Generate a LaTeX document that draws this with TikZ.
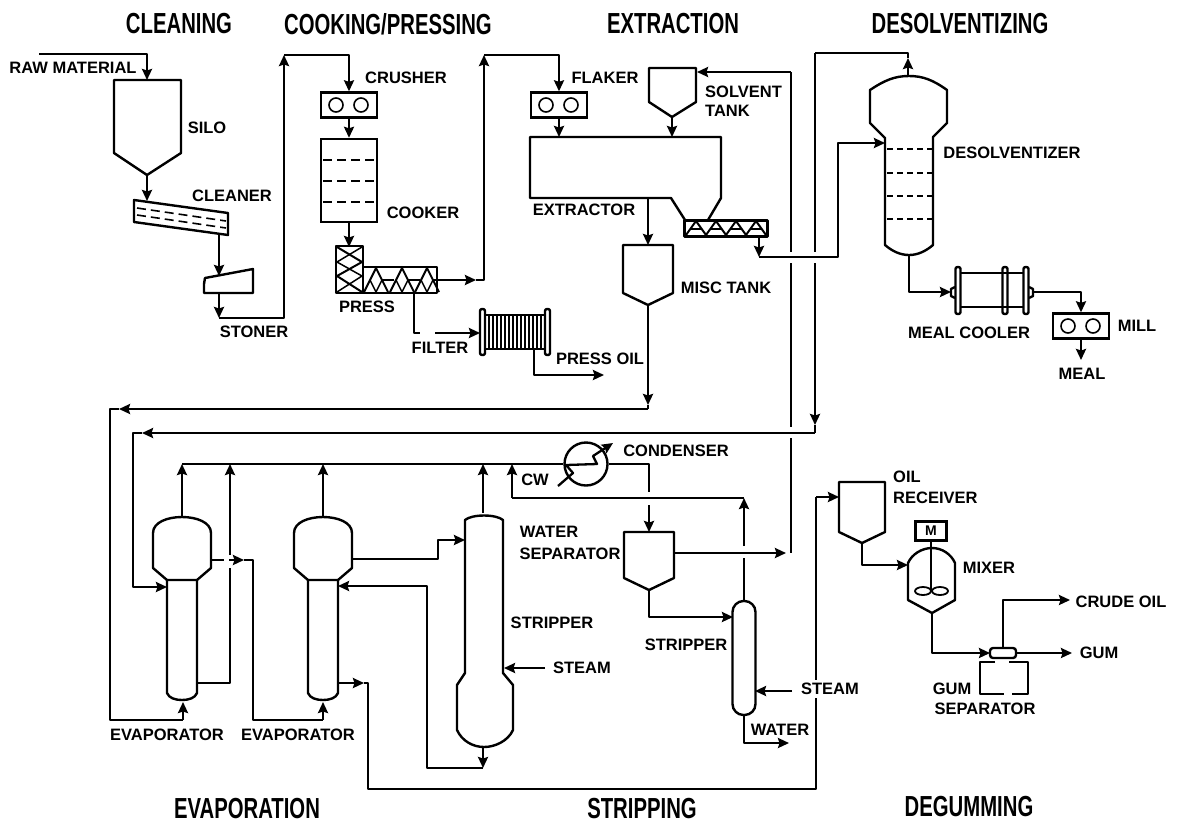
\documentclass[tikz,border=0pt]{standalone}
\usepackage{fontspec}
\setmainfont{Liberation Sans}
\newfontfamily\headfont[FakeStretch=0.7]{Liberation Sans}
\usetikzlibrary{arrows.meta}
\tikzset{
  pipe/.style={line width=2.3pt,line join=round},
  flow/.style={pipe,-{Stealth[length=11pt,width=10pt,inset=1.5pt]}},
  vessel/.style={line width=2.4pt,line join=round,fill=none},
  tray/.style={line width=2pt,dash pattern=on 9pt off 5pt},
  lab/.style={font=\fontsize{16.5}{16.5}\selectfont\bfseries,inner sep=0pt},
  head/.style={font=\fontsize{29}{29}\headfont\bfseries,inner sep=0pt},
}
\begin{document}
\begin{tikzpicture}[x=1pt,y=-1pt]
\useasboundingbox (0,0) rectangle (1182,823);
% Section titles
\node[head] (hclean) at (179,24) {CLEANING};
\node[head] (hcook) at (388,24) {COOKING/PRESSING};
\node[head] (hextr) at (673,24) {EXTRACTION};
\node[head] (hdesol) at (960,24) {DESOLVENTIZING};
\node[head] (hevap) at (247,808) {EVAPORATION};
\node[head] (hstrip) at (642,808) {STRIPPING};
\node[head] (hdegum) at (969,806) {DEGUMMING};
% Silo and cleaner
\draw[vessel] (114,80) -- (181,80) -- (181,153) -- (147,175) -- (114,153) -- cycle;
\draw[vessel] (134,200) -- (228,213) -- (228,235) -- (134,222) -- cycle;
\draw[tray,line width=1.6pt] (137,208) -- (226,221);
\draw[tray,line width=1.6pt] (137,215) -- (226,228);
% Stoner
\draw[vessel] (205,278) -- (253,269) -- (253,293) -- (204,293) -- (204,284) -- cycle;
% Crusher, flaker and mill rolls
\foreach \x/\y/\n in {349/105/crusher,559/105/flaker,1081/326/mill} {
  \node[draw,line width=2.4pt,minimum width=56pt,minimum height=25pt,inner sep=0pt] (\n) at (\x,\y) {};
  \draw[line width=1.6pt] (\x-13,\y) circle (7pt);
  \draw[line width=1.6pt] (\x+12,\y) circle (7pt);
}
% Cooker
\node[draw,line width=2.4pt,minimum width=56pt,minimum height=83pt,inner sep=0pt] (cooker) at (349,180.5) {};
\foreach \y in {160,181,202} {
  \draw[tray] (323,\y) -- (376,\y);
}
% Press with screw
\draw[vessel] (336,246) -- (363,246) -- (363,267) -- (437,267) -- (437,293) -- (336,293) -- cycle;
\draw[pipe] (363,267) -- (363,293);
\foreach \a in {364,390,415} {
  \draw[line width=2pt] (\a,292) -- (\a+12,268) -- (\a+24,292);
  \draw[line width=1.5pt] (\a+6,280) -- (\a+12,292) -- (\a+18,280);
  \draw[line width=1.5pt] (\a+18,280) -- (\a+30,280);
}
\draw[line width=2pt] (337,247) -- (362,262) -- (337,276) -- (362,292);
\draw[line width=1.5pt] (362,247) -- (337,262) -- (362,276) -- (337,292);
% Filter
\draw[vessel,rounded corners=2pt] (480,309) rectangle (485,355);
\draw[vessel,rounded corners=2pt] (545,309) rectangle (550,355);
\draw[pipe] (485,315) -- (545,315);
\draw[pipe] (485,349) -- (545,349);
\foreach \x in {489,493,...,541} {
  \draw[line width=1.5pt] (\x,315) -- (\x,349);
}
% Solvent tank
\draw[vessel] (649,68) -- (696,68) -- (696,102) -- (672,117) -- (649,102) -- cycle;
% Extractor with screw
\draw[vessel] (685,220) -- (671,198) -- (530,198) -- (530,137) -- (721,137) -- (721,198) -- (708,220);
\draw[vessel,line width=3pt] (684,220) rectangle (767,236);
\foreach \a in {686,706,726,746} {
  \draw[line width=2pt] (\a,235) -- (\a+10,221) -- (\a+20,235);
  \draw[line width=1.5pt] (\a+5,229) -- (\a+15,229);
}
% Misc tank
\draw[vessel] (623,245) -- (673,245) -- (673,293) -- (648,305) -- (623,293) -- cycle;
% Desolventizer
\draw[vessel] (885,138) -- (870,123) -- (870,90) .. controls (885,80) and (895,76) .. (909,76)
  .. controls (923,76) and (933,80) .. (947,90) -- (947,123) -- (933,137) -- (933,245)
  .. controls (926,251) and (918,255) .. (909,255) .. controls (900,255) and (892,251) .. (885,245) -- cycle;
\foreach \y in {149,173,196,219} {
  \draw[tray,dash pattern=on 6pt off 4pt] (887,\y) -- (932,\y);
}
% Meal cooler
\foreach \x in {958,1005,1026} {
  \draw[vessel,rounded corners=2pt] (\x-2.5,267) rectangle (\x+2.5,314);
}
\draw[pipe] (960,273) -- (1024,273);
\draw[pipe] (960,307) -- (1024,307);
\draw[vessel] (955,287) -- (951,289) -- (951,296) -- (955,298);
\draw[vessel] (1029,287) -- (1033,289) -- (1033,296) -- (1029,298);
% Evaporators
\foreach \c in {182,323} {
  \draw[vessel] (\c-15,580) -- (\c-29,568) -- (\c-29,533) .. controls (\c-29,522) and (\c-14,517) .. (\c,517)
    .. controls (\c+14,517) and (\c+29,522) .. (\c+29,533) -- (\c+29,568) -- (\c+15,580) -- cycle;
  \draw[vessel] (\c-15,580) -- (\c-15,693) .. controls (\c-13,698) and (\c-7,700) .. (\c,700)
    .. controls (\c+7,700) and (\c+13,698) .. (\c+15,693) -- (\c+15,580);
}
% Large stripper
\draw[vessel] (465,673) -- (465,520) .. controls (472,514) and (496,514) .. (503,520) -- (503,673)
  -- (513,685) -- (513,730) .. controls (508,741) and (495,747) .. (484,747)
  .. controls (473,747) and (462,741) .. (457,730) -- (457,685) -- cycle;
% Condenser
\node[draw,circle,line width=2.4pt,minimum size=43pt,inner sep=0pt] (condenser) at (586,464) {};
% Water separator
\draw[vessel] (624,532) -- (674,532) -- (674,578) -- (649,590) -- (624,578) -- cycle;
% Small stripper
\node[draw,line width=2.4pt,rounded corners=11pt,minimum width=23pt,minimum height=114pt,inner sep=0pt] (stripb) at (744,658) {};
% Oil receiver
\draw[vessel] (839,482) -- (885,482) -- (885,532) -- (862,543) -- (839,532) -- cycle;
% Mixer
\node[draw,line width=2.4pt,minimum width=31pt,minimum height=19pt,inner sep=0pt,font=\fontsize{14}{14}\selectfont\bfseries] (motor) at (931,531) {M};
\draw[vessel] (908,563) .. controls (912,554) and (922,548) .. (932,548) .. controls (942,548) and (951,554) .. (955,563)
  -- (955,600) -- (932,613) -- (908,600) -- cycle;
\draw[line width=1.8pt] (931,541) -- (931,591);
\draw[line width=1.8pt] (923,591) ellipse (8pt and 4pt);
\draw[line width=1.8pt] (940,591) ellipse (8pt and 4pt);
% Gum separator
\node[draw,line width=2.4pt,rounded corners=3pt,minimum width=26pt,minimum height=10pt,inner sep=0pt] (gumtop) at (1003,653) {};
\draw[vessel] (995,662) -- (980,662) -- (980,694) -- (1004,694);
\draw[vessel] (1012,694) -- (1028,694) -- (1028,662) -- (1009,662);
% Ports
\coordinate (rawin) at (39,54);
\coordinate (silotop) at (147,80);
\coordinate (silotip) at (147,175);
\coordinate (cleanerin) at (147,201);
\coordinate (cleanerout) at (219,233);
\coordinate (stonerin) at (219,276);
\coordinate (stonerout) at (219,293);
\coordinate (stonerdown) at (219,318);
\coordinate (riseone) at (284,55);
\coordinate (pressin) at (349,247);
\coordinate (pressout) at (437,280);
\coordinate (pressend) at (476,280);
\coordinate (risetwo) at (484,55);
\coordinate (pressbot) at (414,293);
\coordinate (filtergapa) at (420,333);
\coordinate (filtergapb) at (435,333);
\coordinate (filterin) at (480,333);
\coordinate (filterout) at (534,349);
\coordinate (oilout) at (604,375);
\coordinate (extrin) at (559,137);
\coordinate (solvtip) at (672,117);
\coordinate (solvout) at (672,137);
\coordinate (solvin) at (697,72);
\coordinate (extrbot) at (648,198);
\coordinate (misctop) at (648,245);
\coordinate (misctip) at (648,305);
\coordinate (miscdown) at (648,405);
\coordinate (screwout) at (759,236);
\coordinate (screwdown) at (759,257);
\coordinate (screwturn) at (838,257);
\coordinate (desolin) at (885,143);
\coordinate (desoltop) at (908,76);
\coordinate (desolup) at (908,58);
\coordinate (desolbot) at (909,255);
\coordinate (coolerin) at (951,292);
\coordinate (coolerout) at (1033,292);
\coordinate (mealout) at (1081,360);
% Return lines
\coordinate (miscback) at (648,409);
\coordinate (miscleft) at (119,409);
\coordinate (miscturn) at (110,409);
\coordinate (evapafeed) at (183,720);
\coordinate (evapaup) at (183,702);
\coordinate (evapaport) at (167,587);
\coordinate (evapasout) at (211,560);
\coordinate (evapasgap) at (224,560);
\coordinate (evapasres) at (229,560);
\coordinate (evapasend) at (244,560);
\coordinate (evapbturn) at (253,560);
\coordinate (evapbfeed) at (323,720);
\coordinate (evapbup) at (323,702);
\coordinate (evapbtop) at (323,517);
\coordinate (evapatop) at (182,517);
\coordinate (stripatop) at (483,513);
\coordinate (hdra) at (182,464);
\coordinate (hdrb) at (230,464);
\coordinate (hdrc) at (323,464);
\coordinate (hdrd) at (483,464);
\coordinate (hdre) at (512,464);
\coordinate (tubeout) at (197,683);
\coordinate (tubegapa) at (230,568);
\coordinate (tubegapb) at (230,555);
\coordinate (cwline) at (512,498);
\coordinate (cwright) at (744,498);
\coordinate (stripbtop) at (744,601);
\coordinate (stripbup) at (744,558);
\coordinate (stripbgap) at (744,546);
\coordinate (sepin) at (649,532);
\coordinate (sepgap) at (649,505);
\coordinate (condgap) at (649,492);
\coordinate (septip) at (649,590);
\coordinate (sepout) at (674,553);
\coordinate (sepend) at (786,553);
\coordinate (stripbin) at (733,617);
\coordinate (stripbbot) at (744,715);
\coordinate (waterout) at (789,743);
\coordinate (steamb) at (792,691);
\coordinate (steambin) at (755,691);
\coordinate (steama) at (545,668);
\coordinate (steamain) at (504,668);
\coordinate (evapbsout) at (352,559);
\coordinate (stripturn) at (438,559);
\coordinate (stripain) at (465,540);
\coordinate (stripabot) at (483,747);
\coordinate (stripadown) at (483,768);
\coordinate (stripback) at (427,768);
\coordinate (evapbin) at (338,586);
\coordinate (evapbout) at (338,683);
\coordinate (evapbend) at (364,683);
\coordinate (degumturn) at (368,683);
\coordinate (degumend) at (812,789);
\coordinate (degumcorner) at (816,789);
\coordinate (oilturn) at (816,497);
\coordinate (oilin) at (839,497);
\coordinate (oiltip) at (862,543);
\coordinate (mixin) at (908,565);
\coordinate (mixtip) at (932,613);
\coordinate (gumin) at (990,653);
\coordinate (gumout) at (1016,653);
\coordinate (gumend) at (1072,653);
\coordinate (crudeend) at (1070,600);
\coordinate (solveup) at (791,72);
\coordinate (solvea) at (791,252);
\coordinate (solveb) at (791,263);
\coordinate (solvec) at (791,427);
\coordinate (solved) at (791,438);
\coordinate (solvee) at (791,553);
\coordinate (dtop) at (815,53);
\coordinate (dgapa) at (815,252);
\coordinate (dgapb) at (815,263);
\coordinate (ddown) at (815,425);
\coordinate (dcorner) at (815,433);
\coordinate (dgapc) at (133,433);
\coordinate (dleft) at (142,433);
% Cleaning and cooking lines
\draw[flow] (rawin) -| (silotop);
\draw[flow] (silotip) -- (cleanerin);
\draw[flow] (cleanerout) -- (stonerin);
\draw[flow] (stonerout) -- (stonerdown);
\draw[flow] (stonerdown) -| (riseone);
\draw[flow] (riseone) -| (crusher.north);
\draw[flow] (crusher.south) -- (cooker.north);
\draw[flow] (cooker.south) -- (pressin);
\draw[flow] (pressout) -- (pressend);
\draw[flow] (pressend) -| (risetwo);
\draw[flow] (risetwo) -| (flaker.north);
\draw[flow] (flaker.south) -- (extrin);
\draw[pipe] (pressbot) |- (filtergapa);
\draw[flow] (filtergapb) -- (filterin);
\draw[flow] (filterout) |- (oilout);
% Extraction lines
\draw[flow] (solvtip) -- (solvout);
\draw[flow] (solveup) -- (solvin);
\draw[pipe] (solveup) -- (solvea);
\draw[pipe] (solveb) -- (solvec);
\draw[pipe] (solved) -- (solvee);
\draw[flow] (extrbot) -- (misctop);
\draw[flow] (misctip) -- (miscdown);
\draw[flow] (screwout) -- (screwdown);
\draw[flow] (screwdown) -- (screwturn) |- (desolin);
% Desolventizer lines
\draw[flow] (desoltop) -- (desolup);
\draw[pipe] (desolup) |- (dtop);
\draw[pipe] (dtop) -- (dgapa);
\draw[flow] (dgapb) -- (ddown);
\draw[pipe] (ddown) -- (dcorner);
\draw[flow] (desolbot) |- (coolerin);
\draw[flow] (coolerout) -| (mill.north);
\draw[flow] (mill.south) -- (mealout);
% Evaporator lines
\draw[pipe] (miscdown) -- (miscback);
\draw[flow] (miscback) -- (miscleft);
\draw[pipe] (miscleft) -- (miscturn) |- (evapafeed);
\draw[flow] (evapafeed) -- (evapaup);
\draw[flow] (dcorner) -- (dleft);
\draw[flow] (dleft) -- (dgapc) |- (evapaport);
\draw[flow] (evapatop) -- (hdra);
\draw[pipe] (tubeout) -| (tubegapa);
\draw[flow] (tubegapb) -- (hdrb);
\draw[flow] (evapbtop) -- (hdrc);
\draw[flow] (stripatop) -- (hdrd);
\draw[pipe] (hdra) -- (condenser.west);
\draw[pipe] (condenser.east) -| (condgap);
\draw[flow] (sepgap) -- (sepin);
\draw[pipe] (evapasout) -- (evapasgap);
\draw[flow] (evapasres) -- (evapasend);
\draw[pipe] (evapasend) -- (evapbturn) |- (evapbfeed);
\draw[flow] (evapbfeed) -- (evapbup);
% Stripper lines
\draw[flow] (evapbsout) -- (stripturn) |- (stripain);
\draw[flow] (stripabot) -- (stripadown);
\draw[flow] (stripadown) -- (stripback) |- (evapbin);
\draw[flow] (evapbout) -- (evapbend);
\draw[pipe] (evapbend) -- (degumturn) |- (degumend);
\draw[pipe] (degumend) -- (degumcorner) -- (oilturn);
\draw[flow] (oilturn) -- (oilin);
\draw[flow] (steama) -- (steamain);
\draw[flow] (cwline) -- (hdre);
\draw[pipe] (cwline) -- (cwright);
\draw[flow] (stripbgap) -- (cwright);
\draw[pipe] (stripbtop) -- (stripbup);
\draw[flow] (sepout) -- (sepend);
\draw[flow] (septip) |- (stripbin);
\draw[flow] (stripbbot) |- (waterout);
\draw[flow] (steamb) -- (steambin);
% Condenser coil
\draw[flow] (558,486) -- (573,473) -- (566,465) -- (597,464) -- (593,456) -- (613,443);
% Degumming lines
\draw[flow] (oiltip) |- (mixin);
\draw[flow] (mixtip) |- (gumin);
\draw[flow] (gumtop.north) |- (crudeend);
\draw[flow] (gumout) -- (gumend);
% Labels
\node[lab] (lraw) at (73,68) {RAW MATERIAL};
\node[lab] (lsilo) at (207,128) {SILO};
\node[lab] (lclean) at (232,196) {CLEANER};
\node[lab] (lstone) at (254,332) {STONER};
\node[lab] (lcrush) at (406,78) {CRUSHER};
\node[lab] (lcook) at (423,213) {COOKER};
\node[lab] (lpress) at (367,307) {PRESS};
\node[lab] (lfilt) at (440,348) {FILTER};
\node[lab] (loil) at (600,359) {PRESS OIL};
\node[lab] (lflak) at (605,78) {FLAKER};
\node[lab,anchor=west] (lsolv) at (705,92) {SOLVENT};
\node[lab,anchor=west] (ltank) at (705,111) {TANK};
\node[lab] (lext) at (584,210) {EXTRACTOR};
\node[lab] (lmisc) at (726,288) {MISC TANK};
\node[lab] (ldes) at (1012,153) {DESOLVENTIZER};
\node[lab] (lcool) at (969,333) {MEAL COOLER};
\node[lab] (lmill) at (1137,326) {MILL};
\node[lab] (lmeal) at (1082,374) {MEAL};
\node[lab] (levapa) at (167,735) {EVAPORATOR};
\node[lab] (levapb) at (298,735) {EVAPORATOR};
\node[lab] (lcw) at (535,480) {CW};
\node[lab] (lcond) at (676,451) {CONDENSER};
\node[lab] (lwat) at (549,532) {WATER};
\node[lab] (lsep) at (570,554) {SEPARATOR};
\node[lab] (lstripa) at (552,623) {STRIPPER};
\node[lab] (lsteama) at (582,668) {STEAM};
\node[lab] (lstripb) at (686,645) {STRIPPER};
\node[lab,fill=white,inner ysep=3pt] (lsteamb) at (830,689) {STEAM};
\node[lab] (lwater) at (780,730) {WATER};
\node[lab,anchor=west] (loilr) at (893,477) {OIL};
\node[lab,anchor=west] (lrec) at (893,498) {RECEIVER};
\node[lab] (lmix) at (989,568) {MIXER};
\node[lab] (lcrude) at (1121,602) {CRUDE OIL};
\node[lab] (lgum) at (1099,653) {GUM};
\node[lab] (lgums) at (952,689) {GUM};
\node[lab] (lgumsep) at (985,709) {SEPARATOR};
\end{tikzpicture}
\end{document}
